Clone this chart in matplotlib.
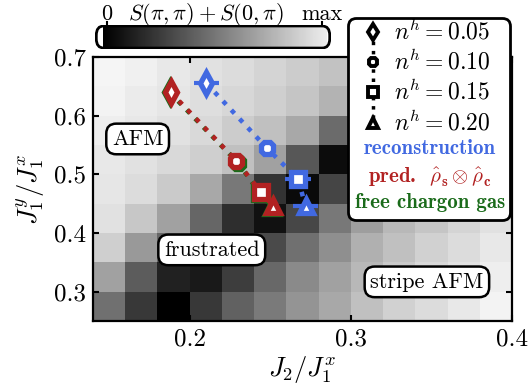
import numpy as np
import matplotlib
matplotlib.use('Agg')
import matplotlib.pyplot as plt
from matplotlib import rcParams
from matplotlib.patches import FancyBboxPatch

rcParams.update({
    'font.family': 'serif',
    'font.serif': ['cmr10'],
    'mathtext.fontset': 'cm',
    'axes.formatter.use_mathtext': True,
    'font.size': 16,
})

# structure factor map S(pi,pi)+S(0,pi), cell centres
j2_vals = np.round(np.arange(0.15, 0.40, 0.02), 3)        # 13 columns
j1y_vals = np.round(np.arange(0.275, 0.70, 0.05), 3)      # 9 rows, bottom -> top
s_map = np.array([
    [0.44, 0.22, 0.00, 0.22, 0.38, 0.48, 0.58, 0.66, 0.75, 0.82, 0.86, 0.91, 0.95],
    [0.63, 0.36, 0.13, 0.10, 0.24, 0.41, 0.54, 0.63, 0.72, 0.79, 0.85, 0.89, 0.93],
    [0.81, 0.60, 0.40, 0.20, 0.22, 0.29, 0.44, 0.56, 0.69, 0.75, 0.82, 0.86, 0.91],
    [0.88, 0.78, 0.63, 0.40, 0.18, 0.07, 0.28, 0.47, 0.62, 0.72, 0.77, 0.83, 0.88],
    [0.90, 0.86, 0.79, 0.66, 0.47, 0.20, 0.04, 0.27, 0.50, 0.62, 0.70, 0.78, 0.84],
    [0.91, 0.88, 0.85, 0.81, 0.75, 0.63, 0.34, 0.05, 0.25, 0.45, 0.58, 0.66, 0.72],
    [0.93, 0.91, 0.88, 0.85, 0.80, 0.75, 0.66, 0.42, 0.30, 0.40, 0.50, 0.58, 0.64],
    [0.95, 0.92, 0.90, 0.87, 0.84, 0.81, 0.77, 0.70, 0.62, 0.58, 0.60, 0.64, 0.68],
    [0.96, 0.94, 0.91, 0.88, 0.86, 0.83, 0.80, 0.76, 0.72, 0.70, 0.70, 0.72, 0.75],
])

nh_vals = [0.05, 0.10, 0.15, 0.20]
nh_markers = ['d', '8', 's', '^']
marker_sizes = [11, 10, 10, 10]

# reconstruction (blue)
rec_j2 = [0.2104, 0.2480, 0.2673, 0.2719]
rec_j1y = [0.6550, 0.5444, 0.4917, 0.4457]
rec_err = [0.0075, 0.0040, 0.0080, 0.0075]
# prediction rho_s x rho_c (red)
pred_j2 = [0.1882, 0.2290, 0.2441, 0.2517]
pred_j1y = [0.6400, 0.5228, 0.4700, 0.4467]
# free chargon gas (green)
gas_j2 = [0.1876, 0.2302, 0.2435, 0.2511]
gas_j1y = [0.6395, 0.5190, 0.4683, 0.4450]

blue = '#4169e1'
red = '#b22222'
green = '#1a6b1a'

fig = plt.figure(figsize=(5.28, 3.87), dpi=100)
ax = fig.add_axes([93/528, 1-321/387, 419/528, 264/387])

ax.pcolormesh(j2_vals, j1y_vals, s_map, cmap='gray', vmin=0, vmax=1,
              shading='nearest', zorder=1)

for xs, ys, c, z in [(gas_j2, gas_j1y, green, 3), (pred_j2, pred_j1y, red, 4),
                     (rec_j2, rec_j1y, blue, 5)]:
    ax.plot(xs, ys, ls=':', lw=3.3, color=c, zorder=z)
    if c == blue:
        ax.errorbar(xs, ys, xerr=rec_err, fmt='none', ecolor=c, elinewidth=3,
                    capsize=0, zorder=z)
    for k in range(len(nh_vals)):
        ax.plot(xs[k], ys[k], marker=nh_markers[k], ms=marker_sizes[k], mfc='white',
                mec=c, mew=3.8, ls='none', zorder=z + 0.5)

box = dict(boxstyle='round,pad=0.25,rounding_size=0.45', fc='white', ec='black', lw=1.8)
ax.text(0.1677, 0.5603, 'AFM', ha='center', va='center', bbox=box, zorder=6)
ax.text(0.2137, 0.3712, 'frustrated', ha='center', va='center', bbox=box, zorder=6)
ax.text(0.3472, 0.3167, 'stripe AFM', ha='center', va='center', bbox=box, zorder=6)

ax.set_xlim(0.14, 0.40)
ax.set_ylim(0.25, 0.70)
ax.set_xticks([0.2, 0.3, 0.4])
ax.set_xticklabels(['0.2', '0.3', '0.4'])
ax.set_yticks([0.3, 0.4, 0.5, 0.6, 0.7])
ax.set_yticklabels(['0.3', '0.4', '0.5', '0.6', '0.7'])
ax.tick_params(direction='in', top=True, right=True, length=4, width=1.5,
               labelsize=18, pad=5)
for sp in ax.spines.values():
    sp.set_linewidth(1.6)
ax.set_xlabel(r'$J_2/J_1^x$', fontsize=19, labelpad=3)
ax.set_ylabel(r'$J_1^y/J_1^x$', fontsize=19, labelpad=5)

# colorbar with rounded outline
cax = fig.add_axes([95/528, 1-49/387, 236/528, 24/387])
grad = np.linspace(0, 1, 256)[None, :]
cax.set_xlim(-0.056, 1.042)
cax.set_ylim(0, 1)
im = cax.imshow(grad * 0.93, cmap='gray', vmin=0, vmax=1, aspect='auto',
                extent=[-0.02, 1.02, 0, 1])
cbox = FancyBboxPatch((-0.05, 0.04), 1.086, 0.92,
                      boxstyle='round,pad=0,rounding_size=0.035', fc='none',
                      ec='black', lw=2, mutation_aspect=1/0.09,
                      transform=cax.transData)
cax.add_patch(cbox)
im.set_clip_path(cbox)
cax.set_axis_off()
for xv, lab in [(0, '0'), (1, 'max')]:
    cax.plot([xv, xv], [0.96, 1.14], color='black', lw=1.5, clip_on=False)
    cax.text(xv, 1.2, lab, ha='center', va='baseline', fontsize=16)
cax.text(0.46, 1.2, r'$S(\pi,\pi)+S(0,\pi)$', ha='center', va='baseline', fontsize=16)

# legend
lax = fig.add_axes([347/528, 1-222/387, 165/528, 205/387])
lax.set_xlim(0, 165)
lax.set_ylim(205, 0)
lax.set_axis_off()
lax.add_patch(FancyBboxPatch((1.5, 1.5), 162, 202, boxstyle='round,pad=0,rounding_size=8',
                             fc='white', ec='black', lw=2, clip_on=False))
leg_y = [15, 45, 75, 106]
lax.plot([26, 26], [leg_y[0], leg_y[-1]], ls=':', lw=2.5, color='black')
for k, nh in enumerate(nh_vals):
    lax.plot(26, leg_y[k], marker=nh_markers[k], ms=marker_sizes[k] * 0.7, mfc='white',
             mec='black', mew=2.8)
    lax.text(47, leg_y[k], r'$n^h = %.2f$' % nh, ha='left', va='center', fontsize=17)
lax.text(83, 132, 'reconstruction', color=blue, ha='center', va='center',
         fontsize=15, family='cmb10')
lax.text(83, 160, r'pred.  $\hat{\rho}_\mathbf{s}\otimes\hat{\rho}_\mathbf{c}$', color=red,
         ha='center', va='center', fontsize=15, family='cmb10')
lax.text(83, 186, 'free chargon gas', color=green, ha='center', va='center',
         fontsize=15, family='cmb10')

fig.savefig('out.png', dpi=100)
